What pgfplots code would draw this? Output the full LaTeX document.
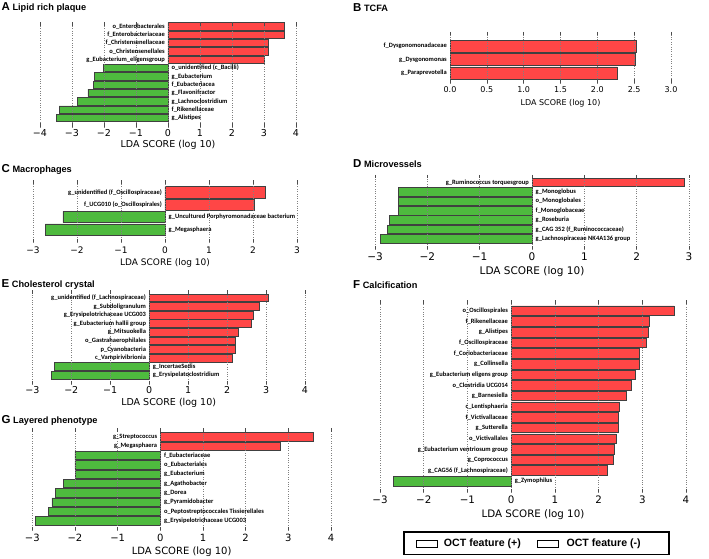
\documentclass[border=0pt]{standalone}
\usepackage{fontspec}
\setmainfont{DejaVu Sans}
\newfontfamily\lblfont{Carlito}
\newfontfamily\ttlfont{Liberation Sans}
\usepackage{pgfplots}
\pgfplotsset{compat=1.18}
\definecolor{lred}{RGB}{255,70,70}
\definecolor{lgreen}{RGB}{78,186,62}

\pgfplotsset{
  lefse/.style n args={3}{
    scale only axis, clip=false, axis on top, anchor=south west,
    axis line style={draw=none},
    ytick=\empty,
    xtick pos=both, xticklabel pos=lower,
    tick align=inside, major tick length=3.5pt,
    every tick/.style={black!70, line width=0.5pt},
    xmajorgrids, grid style={black!50, dotted, line width=0.45pt},
    xticklabel style={font=\fontsize{#1}{#1}\selectfont, anchor=center, yshift=-#2},
    xlabel={LDA SCORE (log 10)},
    xlabel style={font=\fontsize{#1}{#1}\selectfont, at={(axis description cs:0.5,0)}, anchor=center, yshift=-#3},
  },
  redbar/.style={xbar, bar width=0.9, bar shift=0pt, fill=lred, draw=black!75, line width=0.6pt, forget plot},
  greenbar/.style={xbar, bar width=0.9, bar shift=0pt, fill=lgreen, draw=black!75, line width=0.6pt, forget plot},
  poslbl/.style={draw=none, forget plot, nodes near coords, point meta=explicit symbolic,
    every node near coord/.append style={anchor=east, xshift=-3pt, inner sep=0pt, text=black, font=\lblfont\bfseries\fontsize{6.5}{6.5}\selectfont}},
  neglbl/.style={draw=none, forget plot, nodes near coords, point meta=explicit symbolic,
    every node near coord/.append style={anchor=west, xshift=3.5pt, inner sep=0pt, text=black, font=\lblfont\bfseries\fontsize{6.5}{6.5}\selectfont}},
}
\tikzset{ttl/.style={anchor=west, inner sep=0pt, font=\ttlfont\bfseries\fontsize{9.2}{10}\selectfont}}
\newcommand{\plet}[1]{{\fontsize{11.5}{12}\selectfont #1}}

\begin{document}
\begin{tikzpicture}
\path[use as bounding box] (0,0) rectangle (709pt,558pt);

% ---------- titles ----------
\node[ttl] at (1.5pt,550.5pt) {\plet{A} Lipid rich plaque};
\node[ttl] at (353pt,550.5pt) {\plet{B} TCFA};
\node[ttl] at (1.5pt,388.7pt) {\plet{C} Macrophages};
\node[ttl] at (353pt,394pt) {\plet{D} Microvessels};
\node[ttl] at (1.5pt,274pt) {\plet{E} Cholesterol crystal};
\node[ttl] at (353pt,273pt) {\plet{F} Calcification};
\node[ttl] at (1.5pt,138pt) {\plet{G} Layered phenotype};

% ---------- A ----------
\begin{axis}[lefse={9.5}{6pt}{18pt}, at={(40pt,431pt)}, width=256pt, height=104.5pt,
  xmin=-4, xmax=4, ymin=-0.09, ymax=12.47,
  xtick={-4,...,4}, xticklabels={−4,−3,−2,−1,0,1,2,3,4}]
\addplot[redbar] coordinates {(3.62,12) (3.62,11) (3.12,10) (3.12,9) (3.00,8)};
\addplot[greenbar] coordinates {(-2.03,7) (-2.29,6) (-2.32,5) (-2.50,4) (-2.83,3) (-3.40,2) (-3.48,1)};
\addplot[poslbl] coordinates {(0,12) [o\_Enterobacterales] (0,11) [f\_Enterobacteriaceae] (0,10) [f\_Christensenellaceae] (0,9) [o\_Christensenellales] (0,8) [g\_Eubacterium\_eligensgroup]};
\addplot[neglbl] coordinates {(0,7) [o\_unidentified (c\_Bacilli)] (0,6) [g\_Eubacterium] (0,5) [f\_Eubacteriacea] (0,4) [g\_Flavonifractor] (0,3) [g\_Lachnoclostridium] (0,2) [f\_Rikenellaceae] (0,1) [g\_Alistipes]};
\end{axis}

% ---------- B ----------
\begin{axis}[lefse={8}{7pt}{20pt}, at={(450pt,475pt)}, width=221pt, height=51pt,
  xmin=0, xmax=3, ymin=0.25, ymax=4.05,
  xtick={0,0.5,1,1.5,2,2.5,3}, xticklabels={0.0,0.5,1.0,1.5,2.0,2.5,3.0}]
\addplot[redbar] coordinates {(2.53,3) (2.52,2) (2.27,1)};
\addplot[poslbl] coordinates {(0,3) [f\_Dysgonomonadaceae] (0,2) [g\_Dysgonomonas] (0,1) [g\_Paraprevotella]};
\end{axis}

% ---------- C ----------
\begin{axis}[lefse={9}{8pt}{20.7pt}, at={(33pt,316pt)}, width=264pt, height=62pt,
  xmin=-3, xmax=3, ymin=-0.01, ymax=4.99,
  xtick={-3,...,3}, xticklabels={−3,−2,−1,0,1,2,3}]
\addplot[redbar] coordinates {(2.28,4) (2.04,3)};
\addplot[greenbar] coordinates {(-2.32,2) (-2.72,1)};
\addplot[poslbl] coordinates {(0,4) [g\_unidentified (f\_Oscillospiraceae)] (0,3) [f\_UCG010 (o\_Oscillospirales)]};
\addplot[neglbl] coordinates {(0,2) [g\_Uncultured Porphyromonadaceae bacterium] (0,1) [g\_Megasphaera]};
\end{axis}

% ---------- D ----------
\begin{axis}[lefse={10.5}{8pt}{23pt}, at={(375pt,309pt)}, width=314pt, height=74pt,
  xmin=-3, xmax=3, ymin=-0.09, ymax=7.8,
  xtick={-3,...,3}, xticklabels={−3,−2,−1,0,1,2,3}]
\addplot[redbar] coordinates {(2.91,7)};
\addplot[greenbar] coordinates {(-2.56,6) (-2.56,5) (-2.56,4) (-2.72,3) (-2.76,2) (-2.90,1)};
\addplot[poslbl] coordinates {(0,7) [g\_Ruminococcus torquesgroup]};
\addplot[neglbl] coordinates {(0,6) [g\_Monoglobus] (0,5) [o\_Monoglobales] (0,4) [f\_Monoglobaceae] (0,3) [g\_Roseburia] (0,2) [g\_CAG 352 (f\_Ruminococcaceae)] (0,1) [g\_Lachnospiraceae NK4A136 group]};
\end{axis}

% ---------- E ----------
\begin{axis}[lefse={9.5}{6pt}{19pt}, at={(32.3pt,174pt)}, width=272.7pt, height=94pt,
  xmin=-3, xmax=4, ymin=-0.03, ymax=10.92,
  xtick={-3,...,4}, xticklabels={−3,−2,−1,0,1,2,3,4}]
\addplot[redbar] coordinates {(3.05,10) (2.83,9) (2.68,8) (2.61,7) (2.28,6) (2.21,5) (2.20,4) (2.14,3)};
\addplot[greenbar] coordinates {(-2.44,2) (-2.51,1)};
\addplot[poslbl] coordinates {(0,10) [g\_unidentified (f\_Lachnospiraceae)] (0,9) [g\_Subdoligranulum] (0,8) [g\_Erysipelotrichaceae UCG003] (0,7) [g\_Eubacterium hallii group] (0,6) [g\_Mitsuokella] (0,5) [o\_Gastrahaerophilales] (0,4) [p\_Cyanobacteria] (0,3) [c\_Vampirivibrionia]};
\addplot[neglbl] coordinates {(0,2) [g\_IncertaeSedis] (0,1) [g\_Erysipelatoclostridium]};
\end{axis}

% ---------- F ----------
\begin{axis}[lefse={10.3}{8pt}{23pt}, at={(380pt,66pt)}, width=306pt, height=192pt,
  xmin=-3, xmax=4, ymin=-0.01, ymax=18.01,
  xtick={-3,...,4}, xticklabels={−3,−2,−1,0,1,2,3,4},
  legend style={at={(0.5115,-0.268)}, anchor=center, draw=black, line width=1.8pt,
    font=\ttlfont\bfseries\fontsize{10.6}{12}\selectfont, legend columns=2,
    inner xsep=12pt, inner ysep=4.5pt},
  legend image code/.code={\draw[black, line width=0.7pt, fill=white] (0pt,-3.5pt) rectangle (21pt,3.5pt);}]
\addplot[redbar] coordinates {(3.73,17) (3.17,16) (3.14,15) (3.10,14) (2.94,13) (2.94,12) (2.83,11) (2.74,10) (2.64,9) (2.48,8) (2.46,7) (2.45,6) (2.40,5) (2.35,4) (2.34,3) (2.20,2)};
\addplot[greenbar] coordinates {(-2.69,1)};
\addplot[poslbl] coordinates {(0,17) [o\_Oscillospirales] (0,16) [f\_Rikenellaceae] (0,15) [g\_Alistipes] (0,14) [f\_Oscillospiraceae] (0,13) [f\_Coriobacteriaceae] (0,12) [g\_Collinsella] (0,11) [g\_Eubacterium eligens group] (0,10) [o\_Clostridia UCG014] (0,9) [g\_Barnesiella] (0,8) [c\_Lentisphaeria] (0,7) [f\_Victivallaceae] (0,6) [g\_Sutterella] (0,5) [o\_Victivallales] (0,4) [g\_Eubacterium ventriosum group] (0,3) [g\_Coprococcus] (0,2) [g\_CAG56 (f\_Lachnospiraceae)]};
\addplot[neglbl] coordinates {(0,1) [g\_Zymophilus]};
\addlegendimage{draw=black}
\addlegendentry{\mbox{\hspace{4pt}OCT feature (+)\hspace{14pt}}}
\addlegendimage{draw=black}
\addlegendentry{\mbox{\hspace{6pt}OCT feature (-)\hspace{14pt}}}
\end{axis}

% ---------- G ----------
\begin{axis}[lefse={10}{8pt}{22pt}, at={(32.3pt,28pt)}, width=298.7pt, height=102pt,
  xmin=-3, xmax=4, ymin=0.01, ymax=10.96,
  xtick={-3,...,4}, xticklabels={−3,−2,−1,0,1,2,3,4}]
\addplot[redbar] coordinates {(3.59,10) (2.81,9)};
\addplot[greenbar] coordinates {(-2.00,8) (-2.00,7) (-1.99,6) (-2.27,5) (-2.46,4) (-2.54,3) (-2.62,2) (-2.93,1)};
\addplot[poslbl] coordinates {(0,10) [g\_Streptococcus] (0,9) [g\_Megasphaera]};
\addplot[neglbl] coordinates {(0,8) [f\_Eubacteriaceae] (0,7) [o\_Eubacteriales] (0,6) [g\_Eubacterium] (0,5) [g\_Agathobacter] (0,4) [g\_Dorea] (0,3) [g\_Pyramidobacter] (0,2) [o\_Peptostreptococcales Tissierellales] (0,1) [g\_Erysipelotrichaceae UCG003]};
\end{axis}
\end{tikzpicture}
\end{document}
